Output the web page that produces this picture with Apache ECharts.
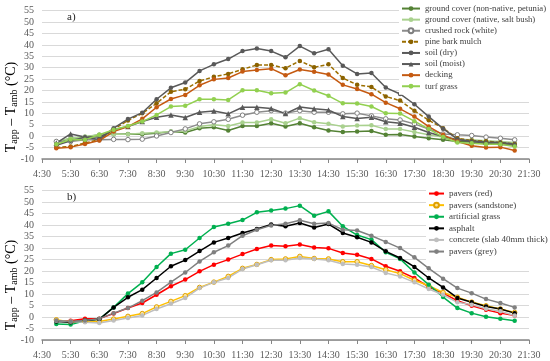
<!DOCTYPE html>
<html><head><meta charset="utf-8">
<script src="https://cdn.jsdelivr.net/npm/echarts/dist/echarts.min.js"></script>
<style>html,body{margin:0;padding:0;background:#fff}#c{width:550px;height:361px}</style>
</head><body><div id="c"></div><script>
const times = ['5:00','5:30','6:00','6:30','7:00','7:30','8:00','8:30','9:00','9:30','10:00','10:30','11:00','11:30','12:00','12:30','13:00','13:30','14:00','14:30','15:00','15:30','16:00','16:30','17:00','17:30','18:00','18:30','19:00','19:30','20:00','20:30','21:00'];
const xTickLabels = ['4:30','5:30','6:30','7:30','8:30','9:30','10:30','11:30','12:30','13:30','14:30','15:30','16:30','17:30','18:30','19:30','20:30','21:30'];

// Panel a)
const petunia   = [-2.8,-0.9,-0.4,0.6,0.9,1.0,0.9,1.3,2.0,1.6,3.5,3.9,2.5,4.5,4.5,5.7,4.2,5.7,3.9,2.5,1.8,2.0,2.3,0.6,0.7,-0.1,-0.9,-1.6,-2.3,-2.5,-2.8,-3.1,-3.4];
const saltBush  = [-2.3,-0.9,-0.1,0.6,0.9,0.9,1.3,1.6,1.9,2.3,4.2,5.0,4.5,6.0,6.0,7.4,5.7,7.9,6.1,5.4,4.2,4.7,4.8,3.1,3.1,1.8,0.6,-0.4,-1.3,-1.6,-2.0,-2.3,-2.8];
const crushedRock = [-2.3,-2.3,-1.6,-1.6,-1.4,-1.5,-1.3,0.1,1.6,3.2,5.4,6.3,7.4,9.2,10.5,11.2,10.1,11.2,10.5,10.5,9.8,10.1,8.9,7.6,7.1,5.4,3.1,1.0,0.6,0.3,-0.4,-0.9,-1.6];
const pineBark  = [-5.0,-4.5,-3.0,-1.5,3.0,6.9,10.0,14.4,19.5,20.6,24.2,26.0,27.3,29.3,31.2,31.2,29.8,33.0,30.2,31.5,25.5,22.5,21.6,17.4,15.6,11.1,7.0,3.5,-0.9,-1.9,-2.2,-2.8,-3.4];
const soilDry   = [-4.0,-2.0,-0.5,-1.5,3.5,7.5,10.3,16.2,21.2,23.5,28.6,31.5,33.8,37.3,38.4,37.3,34.6,39.5,36.3,38.1,30.9,27.3,27.7,21.3,18.5,14.0,8.6,3.3,-1.3,-2.5,-3.2,-3.5,-4.0];
const soilMoist = [-3.0,1.0,-0.4,-0.4,2.8,4.2,6.4,8.3,9.3,8.2,10.5,11.0,9.8,12.7,12.7,12.1,9.9,12.8,12.0,11.5,8.6,7.7,8.3,6.3,5.7,3.9,1.6,-0.1,-1.6,-2.0,-2.6,-2.8,-3.4];
const decking   = [-5.3,-4.8,-3.4,-1.9,2.0,4.2,7.6,12.7,16.3,18.1,22.3,24.9,25.5,28.3,29.0,29.6,26.7,29.2,28.2,27.0,22.5,20.7,18.4,14.7,12.0,8.6,4.2,0.6,-2.3,-4.2,-5.0,-4.8,-6.3];
const turfGrass = [-3.5,-1.5,-1.6,0.6,2.8,4.5,6.4,9.3,13.0,13.3,16.2,16.2,15.9,20.1,20.1,18.8,19.1,22.8,20.0,17.7,14.4,14.3,13.0,10.0,9.9,6.6,3.1,-0.4,-2.8,-3.1,-3.5,-3.5,-4.5];

// Panel b)
const paversRed   = [-1.6,-1.6,-0.7,-0.7,1.5,3.9,6.1,9.7,13.4,16.3,19.9,22.8,25.0,27.4,29.6,31.1,30.8,31.6,30.3,29.9,27.9,27.1,25.3,22.1,19.9,17.0,13.1,10.4,7.1,4.9,3.2,1.7,0.7];
const paversSand  = [-1.2,-2.2,-1.9,-1.9,-0.9,0.3,1.5,4.4,6.8,9.3,12.9,15.2,17.7,21.2,22.9,25.0,25.3,26.4,25.5,25.3,24.1,24.1,22.4,20.6,18.9,16.0,13.6,10.7,8.6,6.5,4.9,3.5,2.0];
const artGrass    = [-3.0,-3.3,-1.6,-0.9,4.2,10.2,15.1,21.8,27.6,29.3,34.4,39.2,40.6,42.2,45.6,46.4,47.2,48.5,44.1,46.0,39.5,35.7,33.7,28.2,25.3,19.4,14.1,8.7,3.9,1.7,0.1,-0.7,-1.6];
const asphalt     = [-1.9,-2.3,-1.5,-1.0,4.2,8.6,11.9,17.0,22.1,24.8,28.7,32.5,34.4,36.6,38.3,40.3,39.5,40.9,39.0,40.5,36.6,34.7,32.5,28.6,25.7,21.8,17.0,12.9,8.3,6.4,4.6,3.5,1.7];
const concrete    = [-1.6,-1.9,-2.3,-2.6,-1.5,-0.4,0.7,3.5,5.8,8.3,12.6,15.1,17.0,20.9,22.8,24.7,24.7,25.7,25.3,24.7,23.1,22.8,21.8,19.2,17.7,15.1,12.2,9.7,6.4,5.4,3.6,2.5,0.7];
const paversGrey  = [-1.5,-1.9,-1.5,-0.7,1.7,3.9,7.1,10.7,15.2,19.4,24.2,28.2,31.1,35.4,38.0,39.9,40.6,42.1,40.6,40.9,38.0,37.7,35.4,32.7,30.0,26.0,21.2,16.7,12.6,10.4,7.8,6.1,4.2];

const yMin = -10, yMax = 55, yStep = 5;

function toX(t){ const p = t.split(':').map(Number); return p[0] + p[1]/60 - 4.5; }
function pts(vals){ return times.map((t,i)=>[toX(t), vals[i]]); }

const FONT = 'Liberation Serif';
const chart = echarts.init(document.getElementById('c'), null, {renderer:'canvas'});

function ser(name, vals, color, grid, opts){
  opts = opts || {};
  return {
    name, type:'line', xAxisIndex: grid*2, yAxisIndex: grid,
    data: pts(vals), symbol: opts.symbol || 'circle', symbolSize: opts.size || 4.5,
    showSymbol: true, animation:false,
    lineStyle: {color: opts.lineColor || color, width: 1.5, type: opts.dash ? [4,2] : 'solid'},
    itemStyle: {color: opts.fill || color, borderColor: opts.border || color, borderWidth: opts.bw || 0},
    z: opts.z || 3
  };
}

function xAxes(grid){
  return [
    {type:'value', gridIndex:grid, min:0, max:17, interval:1,
     axisLine:{show:false}, axisTick:{show:false}, splitLine:{show:false},
     axisLabel:{margin:10, fontSize:10, color:'#595959', fontFamily:FONT,
       formatter:(v)=>xTickLabels[Math.round(v)] }},
    {type:'value', gridIndex:grid, min:0, max:17, interval:1, position:'bottom',
     axisLine:{show:true, onZero:true, lineStyle:{color:'#868686', width:1.5}},
     axisTick:{show:true, length:4, lineStyle:{color:'#868686'}},
     axisLabel:{show:false}, splitLine:{show:false}}
  ];
}
function yAxis(grid){
  return {type:'value', gridIndex:grid, min:yMin, max:yMax, interval:yStep,
    axisLine:{show:false}, axisTick:{show:false},
    splitLine:{lineStyle:{color:'#d9d9d9', width:1}},
    axisLabel:{margin:8, fontSize:10, color:'#595959', fontFamily:FONT}};
}

const titleRich = {
  n:{fontSize:14, fontFamily:FONT, color:'#262626'},
  s:{fontSize:10, fontFamily:FONT, color:'#262626', padding:[7,0,0,0]}
};
const titleText = '{n|T}{s|app}{n| – T}{s|amb}{n| (°C)}';

const option = {
  animation:false,
  backgroundColor:'#fff',
  grid:[
    {left:42, right:21, top:10.7, height:148.3},
    {left:42, right:21, top:190.7, height:149.3}
  ],
  xAxis:[...xAxes(0), ...xAxes(1)],
  yAxis:[yAxis(0), yAxis(1)],
  legend:[
    {orient:'vertical', left:399, top:1, itemWidth:18, itemHeight:6, itemGap:0,
     backgroundColor:'#fff', padding:[2,3,3,2],
     textStyle:{fontSize:8.7, fontFamily:FONT, color:'#404040', lineHeight:11.1},
     data:['ground cover (non-native, petunia)','ground cover (native, salt bush)','crushed rock (white)','pine bark mulch','soil (dry)','soil (moist)','decking','turf grass']},
    {orient:'vertical', left:426, top:186, itemWidth:15, itemHeight:6, itemGap:0.5,
     backgroundColor:'#fff', padding:[2,6,3,2],
     textStyle:{fontSize:9, fontFamily:FONT, color:'#404040', lineHeight:11.1},
     data:['pavers (red)','pavers (sandstone)','artificial grass','asphalt','concrete (slab 40mm thick)','pavers (grey)']}
  ],
  graphic:[
    {type:'text', x:11, y:107, rotation:Math.PI/2, style:{text:titleText, rich:titleRich, align:'center', verticalAlign:'middle'}},
    {type:'text', x:11, y:285, rotation:Math.PI/2, style:{text:titleText, rich:titleRich, align:'center', verticalAlign:'middle'}},
    {type:'text', x:67, y:12, style:{text:'a)', fontSize:11, fontFamily:FONT, fill:'#262626'}},
    {type:'text', x:67, y:192, style:{text:'b)', fontSize:11, fontFamily:FONT, fill:'#262626'}}
  ],
  series:[
    ser('ground cover (non-native, petunia)', petunia, '#548235', 0),
    ser('ground cover (native, salt bush)', saltBush, '#a9d18e', 0),
    ser('crushed rock (white)', crushedRock, '#8c8c8c', 0, {fill:'#ffffff', border:'#7f7f7f', bw:1}),
    ser('pine bark mulch', pineBark, '#9c6f00', 0, {dash:true, fill:'#8a6200'}),
    ser('soil (dry)', soilDry, '#595959', 0),
    ser('soil (moist)', soilMoist, '#595959', 0, {symbol:'triangle', size:5.5}),
    ser('decking', decking, '#c55a11', 0),
    ser('turf grass', turfGrass, '#92d050', 0),
    ser('pavers (red)', paversRed, '#ff0000', 1),
    ser('pavers (sandstone)', paversSand, '#ffc000', 1, {fill:'#ffe699', border:'#e0a000', bw:1}),
    ser('artificial grass', artGrass, '#00b050', 1),
    ser('asphalt', asphalt, '#000000', 1),
    ser('concrete (slab 40mm thick)', concrete, '#bfbfbf', 1),
    ser('pavers (grey)', paversGrey, '#808080', 1)
  ]
};
chart.setOption(option);
</script></body></html>
